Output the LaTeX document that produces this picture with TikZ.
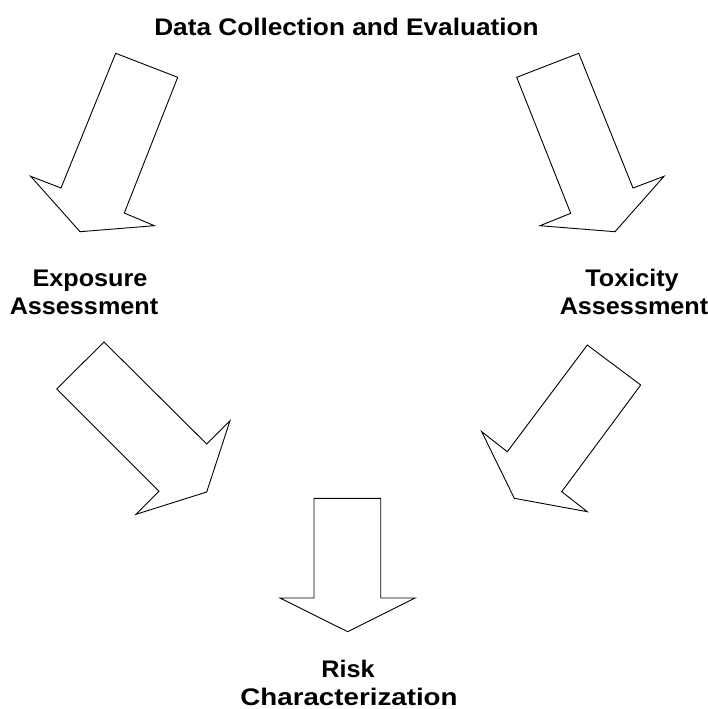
\documentclass[tikz,border=0pt]{standalone}
\usepackage{graphicx}
\usepackage{fontspec}
\setmainfont{Liberation Sans}[FakeStretch=1.05]
\begin{document}
\begin{tikzpicture}[x=1pt,y=-1pt,
  blockarrow/.style={draw=black,line width=0.9pt,line join=miter,fill=white},
  lbl/.style={inner sep=0pt,anchor=base,font=\fontsize{24}{27}\selectfont\bfseries}]
\useasboundingbox (0,0) rectangle (707,709);

% labels, one node per printed line
\node[lbl] (data) at (346.5,36) {\scalebox{1.04}[1]{Data Collection and Evaluation}};
\node[lbl] (exp1) at (90,286.7) {Exposure};
\node[lbl] (exp2) at (84,314) {Assessment};
\node[lbl] (tox1) at (632,286.7) {Toxicity};
\node[lbl] (tox2) at (634,314) {Assessment};
\node[lbl] (risk1) at (348,677.7) {Risk};
\node[lbl] (risk2) at (349,705) {\scalebox{1.1}[1]{Characterization}};

% block arrows
\draw[blockarrow] (115.7,53.3) -- (177.7,77.3) -- (124.3,213) -- (154.3,225.7)
  -- (80,231.7) -- (30.7,176.3) -- (61,188) -- cycle;
\draw[blockarrow] (578.7,53.3) -- (516.7,77.3) -- (570.7,213.3) -- (540,225.7)
  -- (615,231.7) -- (664,176.3) -- (633,188) -- cycle;
\draw[blockarrow] (104,342) -- (56.7,389) -- (159,491.3) -- (136,514.3)
  -- (206.7,492) -- (230,420.7) -- (206.7,444) -- cycle;
\draw[blockarrow] (587.3,345) -- (640.7,385) -- (561.7,491.7) -- (587.3,511.7)
  -- (514.3,498.3) -- (481.7,431.7) -- (507.3,451.7) -- cycle;
\draw[blockarrow] (314,498.3) -- (380.7,498.3) -- (380.7,598) -- (415,598)
  -- (347.7,631.7) -- (280,598) -- (314,598) -- cycle;
\end{tikzpicture}
\end{document}
